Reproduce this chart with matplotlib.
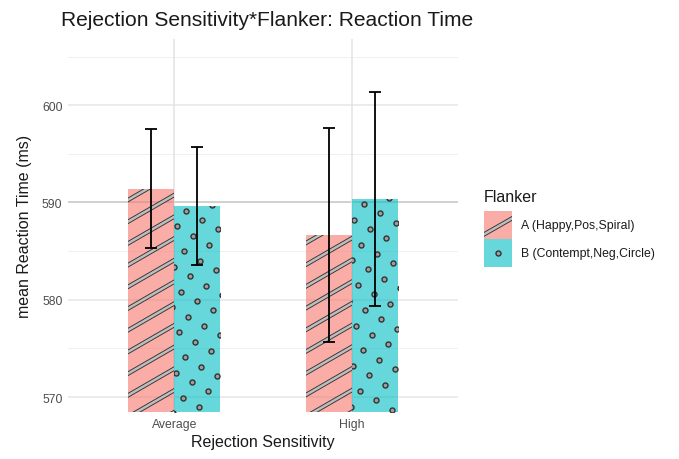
import numpy as np
import matplotlib
matplotlib.use("Agg")
import matplotlib.pyplot as plt
from matplotlib.patches import Rectangle
from matplotlib.lines import Line2D

plt.rcParams['font.family'] = ['Liberation Sans', 'DejaVu Sans']

# Mean reaction time (ms) and standard error per group
groups = ['Average', 'High']
flanker_labels = ['A (Happy,Pos,Spiral)', 'B (Contempt,Neg,Circle)']
mean_A = [591.4, 586.7]
mean_B = [589.65, 590.35]
se_A = [6.1, 11.0]
se_B = [6.1, 11.0]

fill_A = (248/255, 118/255, 109/255, 0.6)
fill_B = (0/255, 191/255, 196/255, 0.6)
ink = '#333333'
stripe_grey = '#BDBDBD'
dot_grey = '#9E9E9E'

W, H, DPI = 679, 460, 100
fig = plt.figure(figsize=(W / DPI, H / DPI), dpi=DPI)
ax = fig.add_axes([68 / W, 1 - 413 / H, (458 - 68) / W, (413 - 40) / H])
ax.set_xlim(0.4, 2.6)
ax.set_ylim(568.46, 606.8)

# grid in the style of theme_minimal
for y in [575, 585, 595, 605]:
    ax.axhline(y, color='#EEEEEE', lw=0.6, zorder=0)
for y in [570, 580, 600]:
    ax.axhline(y, color='#E6E6E6', lw=1.1, zorder=0)
ax.axhline(590, color='#C4C4C4', lw=1.1, zorder=0)
for x in [1, 2]:
    ax.axvline(x, color='#E3E3E3', lw=1.1, zorder=0)

x = np.arange(1, len(groups) + 1)
bw = 0.26
y0 = ax.get_ylim()[0]
bars_A = ax.bar(x - bw / 2, np.array(mean_A) - y0, bottom=y0, width=bw,
                color=fill_A, lw=0, zorder=2)
bars_B = ax.bar(x + bw / 2, np.array(mean_B) - y0, bottom=y0, width=bw,
                color=fill_B, lw=0, zorder=2)

to_px = ax.transData
to_data = ax.transData.inverted()


def bar_px(patch):
    return to_px.transform(
        [(patch.get_x(), patch.get_y()),
         (patch.get_x() + patch.get_width(), patch.get_y() + patch.get_height())])


def stripes(ax, patch, angle=30, gap=18.8, outer=3.1, inner=1.8):
    (px0, py0), (px1, py1) = bar_px(patch)
    t = np.radians(angle)
    d = np.array([np.cos(t), np.sin(t)])
    n = np.array([-np.sin(t), np.cos(t)])
    corners = np.array([(px0, py0), (px1, py0), (px0, py1), (px1, py1)])
    proj = corners @ n
    span = np.hypot(px1 - px0, py1 - py0) + 10
    base = np.dot([px0, py0], n)
    for c in np.arange(proj.min() - gap, proj.max() + gap, gap):
        mid = np.array([px0, py0]) + (c - base) * n
        ends = to_data.transform([mid - d * span, mid + d * span])
        for lw, col in [(outer, ink), (inner, stripe_grey)]:
            ln = Line2D(ends[:, 0], ends[:, 1], lw=lw, color=col,
                        solid_capstyle='butt', zorder=3)
            ax.add_line(ln)
            ln.set_clip_path(patch)


def dots(ax, patch, a=(25.3, 6.3), b=(-16.0, 9.3)):
    (px0, py0), (px1, py1) = bar_px(patch)
    a = np.array(a)
    b = np.array(b)
    origin = np.array([px0 + 12, py1 - 5])
    pts = []
    for i in range(-30, 30):
        for j in range(-60, 60):
            p = origin + i * a + j * b
            if px0 - 3 < p[0] < px1 + 3 and py0 - 3 < p[1] < py1 + 3:
                pts.append(p)
    pts = to_data.transform(np.array(pts))
    sc = ax.scatter(pts[:, 0], pts[:, 1], s=13, facecolor=dot_grey,
                    edgecolor=ink, linewidths=1.0, zorder=3)
    sc.set_clip_path(patch)


for p in bars_A:
    stripes(ax, p)
for p in bars_B:
    dots(ax, p)

ax.errorbar(x - bw / 2, mean_A, yerr=se_A, fmt='none', ecolor='black',
            elinewidth=1.3, capsize=4.6, capthick=1.3, zorder=4)
ax.errorbar(x + bw / 2, mean_B, yerr=se_B, fmt='none', ecolor='black',
            elinewidth=1.3, capsize=4.6, capthick=1.3, zorder=4)

ax.set_xticks(x)
ax.set_xticklabels(groups)
ax.set_yticks([570, 580, 590, 600])
ax.tick_params(length=0, labelsize=8.8, labelcolor='#4D4D4D', pad=4)
for s in ax.spines.values():
    s.set_visible(False)
ax.set_xlabel('Rejection Sensitivity', fontsize=11.5, labelpad=3, color='#1A1A1A')
ax.set_ylabel('mean Reaction Time (ms)', fontsize=11.5, labelpad=7, color='#1A1A1A')
fig.text(61 / W, 1 - 20 / H, 'Rejection Sensitivity*Flanker: Reaction Time',
         fontsize=15.1, va='center', ha='left', color='#1A1A1A')

# legend with pattern keys
fig.text(484 / W, 1 - 197 / H, 'Flanker', fontsize=11.5, va='center', ha='left',
         color='#1A1A1A')
lax = fig.add_axes([484 / W, 1 - 268 / H, 28 / W, 56 / H])
lax.set_xlim(0, 1)
lax.set_ylim(0, 2)
lax.axis('off')
key_A = Rectangle((0, 1), 1, 1, color=fill_A, lw=0)
key_B = Rectangle((0, 0), 1, 1, color=fill_B, lw=0)
lax.add_patch(key_A)
lax.add_patch(key_B)
for lw, col in [(3.1, ink), (1.8, stripe_grey)]:
    ln = Line2D([-0.2, 1.2], [1.05, 1.85], lw=lw, color=col, solid_capstyle='butt')
    lax.add_line(ln)
    ln.set_clip_path(key_A)
lax.scatter([0.5], [0.5], s=13, facecolor=dot_grey, edgecolor=ink, linewidths=1.0)
for k, lab in enumerate(flanker_labels):
    fig.text(521 / W, 1 - (226 + 28 * k) / H, lab, fontsize=8.8,
             color='#1A1A1A', va='center', ha='left')

fig.savefig('out.png', dpi=DPI)
